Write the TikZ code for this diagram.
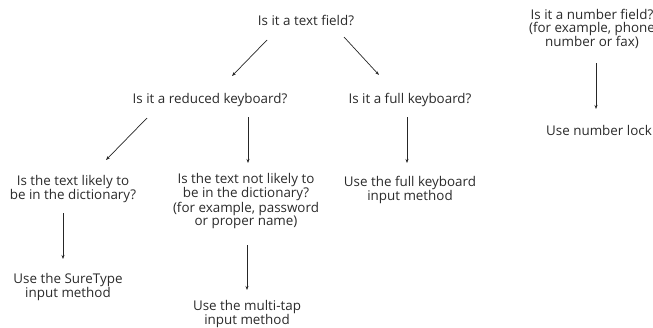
\documentclass[tikz,border=0pt]{standalone}
\usepackage{fontspec}
\setmainfont{Open Sans}
\usetikzlibrary{arrows.meta}
\definecolor{txt}{HTML}{2A2A2A}
\tikzset{
  q/.style={align=center, text=txt, font=\fontsize{13.4}{12.6}\selectfont, inner sep=0pt},
  arr/.style={-{Stealth[length=4pt,width=3pt]}, line width=0.7pt, black!85}
}
\begin{document}
\begin{tikzpicture}[x=1pt,y=-1pt]
\useasboundingbox (0,0) rectangle (653,327);
\node[q] (tf) at (306,20) {Is it a text field?};
\node[q] (rk) at (210,100) {Is it a reduced keyboard?};
\node[q] (fk) at (410,100) {Is it a full keyboard?};
\node[q] (nf) at (592,29) {Is it a number field?\\(for example, phone\\number or fax)};
\node[q] (nl) at (599,130) {Use number lock};
\node[q] (lk) at (73,189) {Is the text likely to\\be in the dictionary?};
\node[q] (nk) at (246,201) {Is the text not likely to\\be in the dictionary?\\(for example, password\\or proper name)};
\node[q] (fm) at (410,190) {Use the full keyboard\\input method};
\node[q] (st) at (68,287) {Use the SureType\\input method};
\node[q] (mt) at (247,314) {Use the multi-tap\\input method};

\coordinate (a1s) at (267,40); \coordinate (a1e) at (232,76);
\coordinate (a2s) at (344,37); \coordinate (a2e) at (379,75);
\coordinate (a3s) at (147,118); \coordinate (a3e) at (106,160);
\coordinate (a4s) at (248,117); \coordinate (a4e) at (248,163);
\coordinate (a5s) at (407,117); \coordinate (a5e) at (407,163);
\coordinate (a6s) at (596,63); \coordinate (a6e) at (596,109);
\coordinate (a7s) at (63,213); \coordinate (a7e) at (63,259);
\coordinate (a8s) at (247,245); \coordinate (a8e) at (247,290);
\draw[arr] (a1s) -- (a1e);
\draw[arr] (a2s) -- (a2e);
\draw[arr] (a3s) -- (a3e);
\draw[arr] (a4s) -- (a4e);
\draw[arr] (a5s) -- (a5e);
\draw[arr] (a6s) -- (a6e);
\draw[arr] (a7s) -- (a7e);
\draw[arr] (a8s) -- (a8e);
\end{tikzpicture}
\end{document}
